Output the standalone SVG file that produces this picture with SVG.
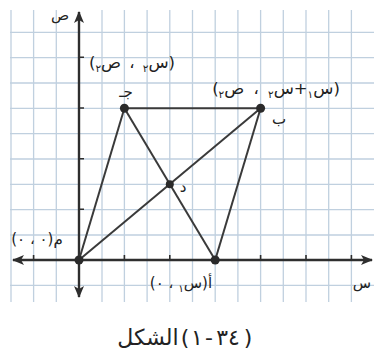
<svg xmlns="http://www.w3.org/2000/svg" width="374" height="360" viewBox="0 0 374 360">
<style>
.grid{stroke:#c0d0df;stroke-width:1.3;fill:none}
.axis{stroke:#2e2e2e;stroke-width:2.4;fill:none}
.tick{stroke:#2e2e2e;stroke-width:1.6}
.seg{stroke:#3a3a3a;stroke-width:2;fill:none}
.pt{fill:#2a2a2a}
text{font-family:"DejaVu Sans","Noto Sans",sans-serif;fill:#222;font-size:15px}
.lab{font-size:16.5px}
.sub{font-size:10.5px}
.cap{font-size:22px;text-anchor:middle}
</style>
<defs>
<marker id="arr" viewBox="0 0 12 10" refX="11" refY="5" markerWidth="12" markerHeight="10" markerUnits="userSpaceOnUse" orient="auto">
<path d="M0,0 L12,5 L0,10 L3,5 Z" fill="#2e2e2e"/>
</marker>
</defs>
<rect width="374" height="360" fill="#ffffff"/>
<g id="grid">
<path class="grid" d="M11,10V302 M33.6,10V302 M56.3,10V302 M102,10V302 M124.4,10V302 M147.1,10V302 M169.8,10V302 M192.5,10V302 M215.2,10V302 M237.9,10V302 M260.6,10V302 M283.3,10V302 M306,10V302 M328.7,10V302 M351.4,10V302"/>
<path class="grid" d="M10,32.3H374 M10,57.7H374 M10,83H374 M10,108.3H374 M10,133.7H374 M10,159H374 M10,184.3H374 M10,209.7H374 M10,235H374 M10,285.3H374"/>
</g>
<g id="axes">
<line class="axis" x1="79" y1="260" x2="372" y2="260" marker-end="url(#arr)"/>
<line class="axis" x1="79" y1="260" x2="13" y2="260" marker-end="url(#arr)"/>
<line class="axis" x1="79" y1="260" x2="79" y2="12" marker-end="url(#arr)"/>
<line class="axis" x1="79" y1="260" x2="79" y2="297" marker-end="url(#arr)"/>
<path class="tick" d="M33.6,255V260 M124.4,255V260 M169.8,255V260 M260.6,255V260 M306,255V260 M351.4,255V260 M79,209.3H84 M79,158.7H84 M79,108H84 M79,57.3H84"/>
</g>
<g id="connectors">
<line class="seg" x1="79" y1="260" x2="124.4" y2="108.3"/>
<line class="seg" x1="124.4" y1="108.3" x2="260.6" y2="108.3"/>
<line class="seg" x1="260.6" y1="108.3" x2="215.2" y2="260"/>
<line class="seg" x1="79" y1="260" x2="260.6" y2="108.3"/>
<line class="seg" x1="124.4" y1="108.3" x2="215.2" y2="260"/>
</g>
<g id="node-m"><circle class="pt" cx="79" cy="260" r="4.5"/><text x="37" y="244" text-anchor="middle" direction="rtl">م(٠ ، ٠)</text></g>
<g id="node-a"><circle class="pt" cx="215.2" cy="260" r="4.5"/><text x="181" y="288" text-anchor="middle" direction="rtl">أ(س<tspan class="sub" baseline-shift="-4">١</tspan> ، ٠)</text></g>
<g id="node-b"><circle class="pt" cx="260.6" cy="108.3" r="4.5"/><text x="279" y="124" text-anchor="middle" direction="rtl">ب</text><text class="lab" x="276" y="94" text-anchor="middle" direction="rtl" word-spacing="4">(س<tspan class="sub" baseline-shift="-4">١</tspan>+س<tspan class="sub" baseline-shift="-4">٢</tspan> ، ص<tspan class="sub" baseline-shift="-4">٢</tspan>)</text></g>
<g id="node-c"><circle class="pt" cx="124.4" cy="108.3" r="4.5"/><text x="126" y="97" text-anchor="middle" direction="rtl">جـ</text><text class="lab" x="132" y="68" text-anchor="middle" direction="rtl" word-spacing="3">(س<tspan class="sub" baseline-shift="-4">٢</tspan> ، ص<tspan class="sub" baseline-shift="-4">٢</tspan>)</text></g>
<g id="node-d"><circle class="pt" cx="169.8" cy="184.2" r="4"/><text x="183" y="192" text-anchor="middle" direction="rtl">د</text></g>
<g id="labels">
<text x="60" y="20" text-anchor="middle" direction="rtl">ص</text>
<text x="362" y="288" text-anchor="middle" direction="rtl">س</text>
<text class="cap" x="148" y="345" direction="rtl">الشكل</text>
<text class="cap" x="185" y="345">(</text>
<text class="cap" x="197" y="345">١</text>
<text class="cap" x="209" y="345">-</text>
<text class="cap" x="228" y="345">٣٤</text>
<text class="cap" x="248" y="345">)</text>
</g>
</svg>
